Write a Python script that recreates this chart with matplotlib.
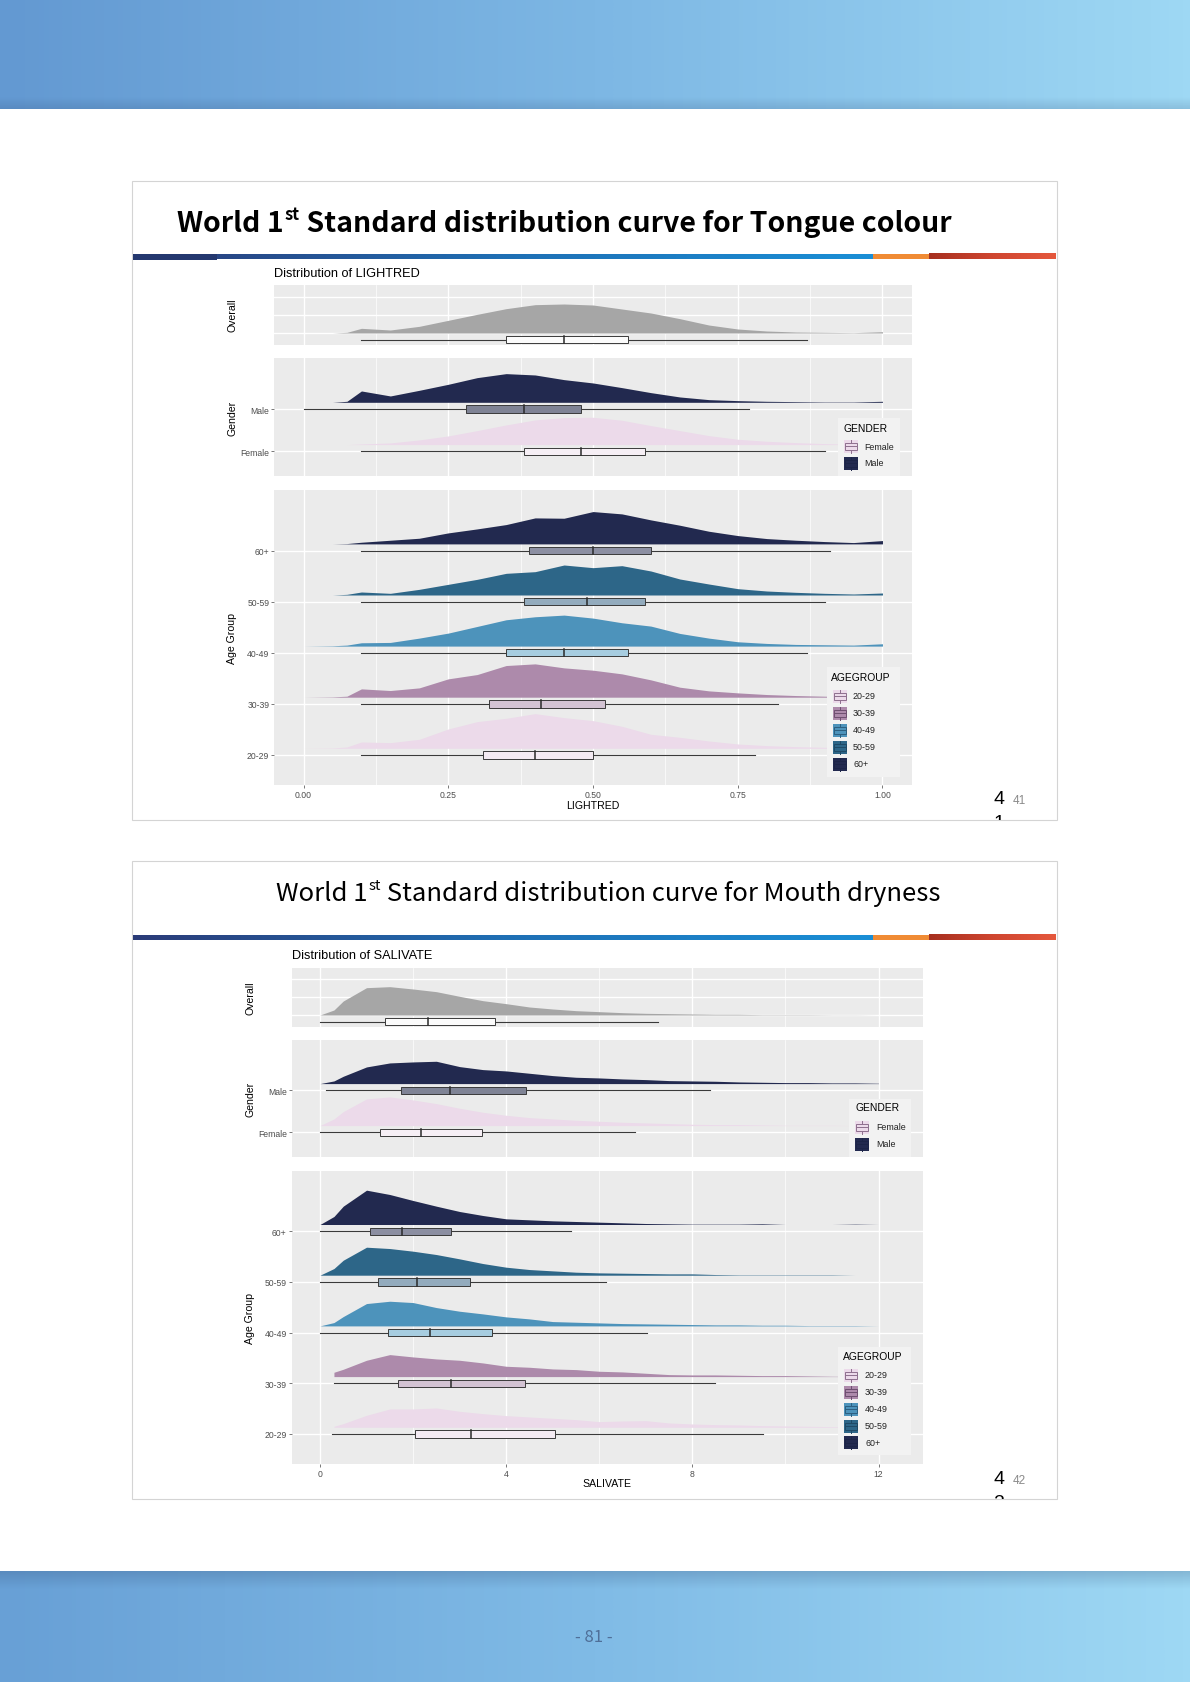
import numpy as np
import matplotlib.pyplot as plt
from matplotlib.patches import Rectangle
from matplotlib.colors import LinearSegmentedColormap
from matplotlib.transforms import Bbox

W, H = 1190, 1683
plt.rcParams['font.family'] = ['Liberation Sans', 'DejaVu Sans']

# ------------------------------------------------------------
# data
# density heights are in reading units (1/3 px of the original)
# box stats: min, q1, median, q3, max
# ------------------------------------------------------------
AGE_GROUPS = ['20-29', '30-39', '40-49', '50-59', '60+']
GENDERS = ['Female', 'Male']

LR_X = [0.00, 0.05, 0.075, 0.10, 0.15, 0.20, 0.25, 0.30, 0.35, 0.40, 0.45, 0.50,
        0.55, 0.60, 0.65, 0.70, 0.75, 0.80, 0.85, 0.90, 0.95, 1.00]
LR_OVERALL = [0, 0, 2, 14, 9, 20, 38, 56, 73, 85, 87, 84, 72, 60, 43, 24, 12, 6, 3, 2, 1, 4]
LR_FEMALE = [0, 0, 0, 2, 5, 14, 26, 42, 59, 74, 81, 82, 73, 57, 42, 27, 16, 10, 6, 3, 1, 0]
LR_MALE = [0, 0, 3, 34, 19, 36, 54, 74, 86, 82, 68, 58, 44, 29, 16, 8, 5, 3, 2, 1, 1, 3]
LR_20 = [0, 1, 4, 19, 17, 27, 58, 80, 90, 104, 92, 83, 66, 42, 33, 22, 13, 8, 5, 3, 2, 2]
LR_30 = [0, 1, 3, 25, 20, 28, 55, 68, 95, 100, 88, 81, 70, 52, 30, 19, 13, 8, 5, 3, 1, 0]
LR_40 = [0, 1, 3, 10, 11, 24, 39, 59, 79, 88, 93, 84, 70, 60, 38, 24, 13, 8, 5, 4, 3, 7]
LR_50 = [0, 0, 2, 9, 5, 17, 32, 47, 65, 70, 90, 82, 88, 72, 48, 33, 19, 12, 8, 5, 3, 6]
LR_60 = [0, 0, 1, 5, 11, 17, 33, 45, 58, 78, 77, 97, 90, 72, 56, 38, 25, 16, 11, 7, 4, 10]

LR_BOX_OVERALL = [0.10, 0.35, 0.45, 0.56, 0.87]
LR_BOX_FEMALE = [0.10, 0.38, 0.48, 0.59, 0.90]
LR_BOX_MALE = [0.00, 0.28, 0.38, 0.48, 0.77]
LR_BOX_AGE = [[0.10, 0.31, 0.40, 0.50, 0.78],
              [0.10, 0.32, 0.41, 0.52, 0.82],
              [0.10, 0.35, 0.45, 0.56, 0.87],
              [0.10, 0.38, 0.49, 0.59, 0.90],
              [0.10, 0.39, 0.50, 0.60, 0.91]]

SAL_X = [0, 0.3, 0.5, 1.0, 1.5, 2.0, 2.5, 3.0, 3.5, 4.0, 4.5, 5.0, 5.5, 6.0,
         6.5, 7.0, 7.5, 8.0, 8.5, 9.0, 9.5, 10.0, 10.5, 11.0, 11.5, 12.0]
nan = float('nan')
SAL_OVERALL = [0, 15, 42, 82, 85, 78, 70, 56, 43, 34, 24, 18, 13, 10, 7, 5, 4, 3, 2, 2, 1, 1, 1, 0.5, 0.5, 0]
SAL_FEMALE = [0, 20, 42, 80, 86, 77, 66, 52, 40, 31, 24, 20, 16, 13, 10, 8, 6, 4, 3, 3, 2, 1, 1, 1, 0, 0]
SAL_MALE = [0, 8, 22, 50, 62, 65, 67, 51, 42, 38, 31, 24, 19, 17, 14, 12, 9, 8, 7, 5, 4, 3, 3, 2, 2, 1]
SAL_20 = [nan, 3, 11, 36, 55, 55, 58, 48, 41, 35, 31, 27, 23, 17, 19, 20, 13, 10, 8, 7, 5, 4, 3, 2, 1, 0]
SAL_30 = [nan, 13, 22, 49, 66, 59, 53, 49, 41, 31, 28, 23, 21, 16, 14, 10, 6, 5, 5, 4, 3, 3, 2, 1, 0.5, 0]
SAL_40 = [0, 10, 28, 67, 74, 70, 55, 44, 36, 27, 21, 13, 11, 9, 7, 6, 5, 4, 3, 3, 2, 2, 1, 1, 1, 0]
SAL_50 = [0, 20, 45, 84, 80, 72, 62, 49, 35, 24, 17, 13, 9, 7, 6, 5, 4, 4, 2, 1, 1, 1, 1, 1, 0, 0]
SAL_60 = [0, 24, 55, 103, 90, 72, 55, 39, 27, 17, 14, 11, 9, 7, 5, 3, 2, 1, 1, 1, 2, 0, 0, 0, 1, 0]

SAL_BOX_OVERALL = [0.00, 1.39, 2.32, 3.75, 7.26]
SAL_BOX_FEMALE = [0.00, 1.29, 2.17, 3.48, 6.76]
SAL_BOX_MALE = [0.13, 1.74, 2.80, 4.43, 8.39]
SAL_BOX_AGE = [[0.25, 2.05, 3.25, 5.05, 9.52],
               [0.31, 1.68, 2.81, 4.40, 8.48],
               [0.00, 1.46, 2.37, 3.70, 7.03],
               [0.00, 1.24, 2.09, 3.22, 6.14],
               [0.00, 1.08, 1.76, 2.82, 5.40]]

# colours
C_OVERALL = '#a6a6a6'
C_GENDER = ['#ecdaea', '#22294f']
C_AGE = ['#ecdaea', '#ad8aab', '#4d93bb', '#2d6688', '#22294f']
B_OVERALL = '#fbfbfb'
B_GENDER = ['#f6eff5', '#7f8395']
B_AGE = ['#f4ebf3', '#d3c3d3', '#a7cde0', '#93abbd', '#8c8fa2']
K_LINE_GENDER = ['#8e6f8e', '#1c2447']
K_LINE_AGE = ['#8e6f8e', '#6e4f70', '#2d5f80', '#1f4a66', '#1c2447']

fig = plt.figure(figsize=(W / 100, H / 100), dpi=100)
fig.patch.set_facecolor('white')

bg = fig.add_axes([0, 0, 1, 1], zorder=0)
bg.set_xlim(0, W)
bg.set_ylim(H, 0)
bg.axis('off')

top = fig.add_axes([0, 0, 1, 1], zorder=10)
top.set_xlim(0, W)
top.set_ylim(H, 0)
top.axis('off')
top.patch.set_alpha(0)


def hgrad(ax, x0, x1, y0, y1, colors, z=1):
    cmap = LinearSegmentedColormap.from_list('g', colors)
    ax.imshow(np.linspace(0, 1, 256)[None, :], extent=[x0, x1, y1, y0],
              cmap=cmap, aspect='auto', zorder=z, interpolation='bilinear')


def vshade(ax, x0, x1, y0, y1, a0, a1, color=(0.15, 0.25, 0.4), z=2):
    arr = np.zeros((64, 1, 4))
    arr[:, 0, :3] = color
    arr[:, 0, 3] = np.linspace(a0, a1, 64)
    ax.imshow(arr, extent=[x0, x1, y1, y0], aspect='auto', zorder=z,
              interpolation='bilinear')


def px_axes(x0, y0, x1, y1, z=2):
    return fig.add_axes([x0 / W, 1 - y1 / H, (x1 - x0) / W, (y1 - y0) / H], zorder=z)


# ---------------- page background ----------------
hgrad(bg, 0, W, 0, 110, ['#6399d2', '#7db7e4', '#9ed8f4'])
vshade(bg, 0, W, 98, 110, 0.0, 0.16)
hgrad(bg, 0, W, 1572, H, ['#68a0d6', '#80bbe6', '#9ed8f4'])
vshade(bg, 0, W, 1572, 1590, 0.22, 0.0)
bg.text(594, 1638, '- 81 -', ha='center', va='center', fontsize=12,
        color='#4f6f98', family=['Noto Sans CJK KR', 'DejaVu Sans'])

slides = []
for (y0, y1) in [(182, 821), (862, 1500)]:
    r = Rectangle((132, y0), 925, y1 - y0, fc='white', ec='#d4d4d4', lw=0.8, zorder=3)
    bg.add_patch(r)
    slides.append((y0, y1))


def title_rule(y, navy_block):
    hgrad(bg, 133, 873, y - 2.2, y + 2.2, ['#2b3b78', '#1f6fb4', '#1a8fd6'], z=4)
    bg.add_patch(Rectangle((873, y - 2.6), 56, 5.2, fc='#f08b34', lw=0, zorder=4))
    hgrad(bg, 929, 1056, y - 2.8, y + 2.8, ['#a62f1f', '#cf4630', '#e5583d'], z=4)
    if navy_block:
        bg.add_patch(Rectangle((133, y - 3), 84, 6, fc='#24386f', lw=0, zorder=5))


title_rule(257.5, True)
title_rule(938.5, False)


def sup_title(x, y, pre, sup, post, size, weight, center=False):
    r = fig.canvas.get_renderer()
    fam = ['Noto Sans CJK KR', 'DejaVu Sans']
    t1 = bg.text(0, y, pre, fontsize=size, weight=weight, family=fam, va='baseline', zorder=6)
    t2 = bg.text(0, y - size * 0.6, sup, fontsize=size * 0.58, weight=weight, family=fam,
                 va='baseline', zorder=6)
    t3 = bg.text(0, y, post, fontsize=size, weight=weight, family=fam, va='baseline', zorder=6)
    w1 = t1.get_window_extent(r).width
    w2 = t2.get_window_extent(r).width
    w3 = t3.get_window_extent(r).width
    x0 = x - (w1 + w2 + w3) / 2 if center else x
    t1.set_x(x0)
    t2.set_x(x0 + w1 + 1)
    t3.set_x(x0 + w1 + w2 + 1)


sup_title(177, 232, 'World 1', 'st', ' Standard distribution curve for Tongue colour', 20.5, 'bold')
sup_title(608, 901, 'World 1', 'st', ' Standard distribution curve for Mouth dryness', 18.5, 'normal', center=True)

# page numbers (the second digit is cut by the slide frame)
for (yy, big, small, nxt), (sy0, sy1) in zip([(800, '4', '41', '1'), (1480, '4', '42', '2')], slides):
    bg.text(999, yy, big, ha='center', va='center', fontsize=14, color='black', zorder=6)
    bg.text(1019, yy + 1, small, ha='center', va='center', fontsize=8.5, color='#8a8a8a', zorder=6)
    t = bg.text(999, yy + 24, nxt, ha='center', va='center', fontsize=14, color='black', zorder=6)
    t.set_clip_box(Bbox([[132, H - sy1], [1057, H - sy0]]))
    t.set_clip_on(True)


# ---------------- ridge panels ----------------
def panel(rect, xs, dens, boxes, fills, boxfills, row1_px, ppu, xlim, xmajor, xminor,
          ylabels=None, hlines_px=None, xticklabels=None):
    x0, y0, x1, y1 = rect
    ax = px_axes(x0, y0, x1, y1)
    ax.set_facecolor('#ebebeb')
    for s in ax.spines.values():
        s.set_visible(False)
    ax.set_axisbelow(True)
    ax.set_xticks(xmajor)
    ax.set_xticks(xminor, minor=True)
    ax.grid(which='major', color='white', lw=1.0)
    ax.grid(which='minor', axis='x', color='white', lw=0.5)
    base_off = 6.7 / ppu
    hh = 3.6 / ppu
    for i, (d, b, fc, bc) in enumerate(zip(dens, boxes, fills, boxfills)):
        y = i + 1
        h = np.array(d, dtype=float) / 3 / ppu
        ax.fill_between(xs, y + base_off, y + base_off + h, color=fc, lw=0, zorder=2)
        ax.plot([b[0], b[1]], [y, y], color='#3a3a3a', lw=0.8, zorder=3)
        ax.plot([b[3], b[4]], [y, y], color='#3a3a3a', lw=0.8, zorder=3)
        ax.add_patch(Rectangle((b[1], y - hh), b[3] - b[1], 2 * hh, fc=bc,
                               ec='#3a3a3a', lw=0.7, zorder=3))
        ax.plot([b[2], b[2]], [y - hh, y + hh], color='#2a2a2a', lw=1.1, zorder=4)
    if ylabels is not None:
        ax.set_yticks(range(1, len(ylabels) + 1))
        ax.set_yticklabels(ylabels)
        ax.tick_params(axis='y', length=2.2, width=0.5, color='#444444', pad=1.2,
                       labelsize=6.2, labelcolor='#4d4d4d')
    else:
        base = 1 + base_off
        ax.set_yticks([base + p / ppu for p in hlines_px])
        ax.set_yticklabels([])
        ax.tick_params(axis='y', length=0)
    if xticklabels is not None:
        ax.set_xticklabels(xticklabels)
        ax.tick_params(axis='x', length=2.2, width=0.5, color='#444444', pad=1.4,
                       labelsize=6.2, labelcolor='#4d4d4d')
    else:
        ax.tick_params(axis='x', length=0, labelbottom=False)
    ax.tick_params(which='minor', length=0)
    ax.set_xlim(*xlim)
    ax.set_ylim(1 - (y1 - row1_px) / ppu, 1 + (row1_px - y0) / ppu)
    return ax


def key(ax, kx, ky, fill, line):
    ax.add_patch(Rectangle((kx - 7, ky - 6.5), 14, 13, fc=fill, lw=0, zorder=11))
    ax.add_patch(Rectangle((kx - 6, ky - 3.5), 12, 7, fc='none', ec=line, lw=0.7, zorder=12))
    ax.plot([kx - 6, kx + 6], [ky, ky], color=line, lw=0.7, zorder=12)
    ax.plot([kx, kx], [ky - 6.5, ky - 3.5], color=line, lw=0.7, zorder=12)
    ax.plot([kx, kx], [ky + 3.5, ky + 6.5], color=line, lw=0.7, zorder=12)


def legend(x0, y0, x1, y1, title, title_xy, labels, kx, rows, lx, fills, lines):
    top.add_patch(Rectangle((x0, y0), x1 - x0, y1 - y0, fc='#f2f2f2', lw=0, zorder=10))
    top.text(title_xy[0], title_xy[1], title, fontsize=7.4, color='black', va='center', zorder=12)
    for lab, ry, fc, lc in zip(labels, rows, fills, lines):
        key(top, kx, ry, fc, lc)
        top.text(lx, ry, lab, fontsize=6.4, color='#222222', va='center', zorder=12)


def chart(L, xs, overall, gender_d, age_d, box_overall, gender_b, age_b,
          xmajor, xminor, xticklabels, xlabel, title):
    left, right = L['left'], L['right']
    top.text(left, L['title_y'], title, fontsize=9.2, va='center', color='black')
    oy0, oy1, orow = L['overall']
    panel((left, oy0, right, oy1), xs, [overall], [box_overall], [C_OVERALL], [B_OVERALL],
          orow, 42.3, L['xlim'], xmajor, xminor, hlines_px=[0, 18, 36])
    gy0, gy1, grow, gppu = L['gender']
    panel((left, gy0, right, gy1), xs, gender_d, gender_b, C_GENDER, B_GENDER,
          grow, gppu, L['xlim'], xmajor, xminor, ylabels=GENDERS)
    ay0, ay1, arow, appu = L['age']
    panel((left, ay0, right, ay1), xs, age_d, age_b, C_AGE, B_AGE,
          arow, appu, L['xlim'], xmajor, xminor, ylabels=AGE_GROUPS, xticklabels=xticklabels)
    for lab, (yy0, yy1) in zip(['Overall', 'Gender', 'Age Group'],
                               [(oy0, oy1), (gy0, gy1), (ay0, ay1)]):
        top.text(L['ylab_x'], (yy0 + yy1) / 2, lab, rotation=90, fontsize=7.6,
                 ha='center', va='center', color='black')
    top.text((left + right) / 2, L['xlab_y'], xlabel, fontsize=7.6, ha='center', va='center')
    legend(*L['leg_gender'], 'GENDER', L['leg_gender_title'], GENDERS,
           L['leg_gender_kx'], L['leg_gender_rows'], L['leg_gender_lx'], C_GENDER, K_LINE_GENDER)
    legend(*L['leg_age'], 'AGEGROUP', L['leg_age_title'], AGE_GROUPS,
           L['leg_age_kx'], L['leg_age_rows'], L['leg_age_lx'], C_AGE, K_LINE_AGE)


LAYOUT_LR = dict(left=274, right=912, xlim=(-0.051, 1.051), title_y=274, ylab_x=232,
                 overall=(286, 345.5, 340.7), gender=(359, 477, 452.3, 42.3),
                 age=(490.5, 786, 756, 51.1), xlab_y=806,
                 leg_gender=(838, 419, 900, 477), leg_gender_title=(843, 429),
                 leg_gender_kx=851, leg_gender_rows=[447, 464], leg_gender_lx=864,
                 leg_age=(827, 668, 900, 778), leg_age_title=(831, 678),
                 leg_age_kx=840, leg_age_rows=[697, 714, 731, 748, 765], leg_age_lx=853)

LAYOUT_SAL = dict(left=291.5, right=923, xlim=(-0.612, 12.956), title_y=956, ylab_x=250,
                  overall=(969, 1027.7, 1022.7), gender=(1041, 1158.3, 1133.3, 42.0),
                  age=(1171.7, 1465, 1435, 50.7), xlab_y=1484,
                  leg_gender=(849, 1100, 911, 1158), leg_gender_title=(855, 1108),
                  leg_gender_kx=862, leg_gender_rows=[1128, 1145], leg_gender_lx=876,
                  leg_age=(838, 1348, 911, 1456), leg_age_title=(843, 1357),
                  leg_age_kx=851, leg_age_rows=[1376, 1393, 1410, 1427, 1443.5], leg_age_lx=865)

chart(LAYOUT_LR, LR_X, LR_OVERALL, [LR_FEMALE, LR_MALE], [LR_20, LR_30, LR_40, LR_50, LR_60],
      LR_BOX_OVERALL, [LR_BOX_FEMALE, LR_BOX_MALE], LR_BOX_AGE,
      [0, 0.25, 0.5, 0.75, 1.0], [0.125, 0.375, 0.625, 0.875],
      ['0.00', '0.25', '0.50', '0.75', '1.00'], 'LIGHTRED', 'Distribution of LIGHTRED')

chart(LAYOUT_SAL, SAL_X, SAL_OVERALL, [SAL_FEMALE, SAL_MALE], [SAL_20, SAL_30, SAL_40, SAL_50, SAL_60],
      SAL_BOX_OVERALL, [SAL_BOX_FEMALE, SAL_BOX_MALE], SAL_BOX_AGE,
      [0, 4, 8, 12], [2, 6, 10],
      ['0', '4', '8', '12'], 'SALIVATE', 'Distribution of SALIVATE')

fig.savefig('out.png', dpi=100, facecolor='white')
